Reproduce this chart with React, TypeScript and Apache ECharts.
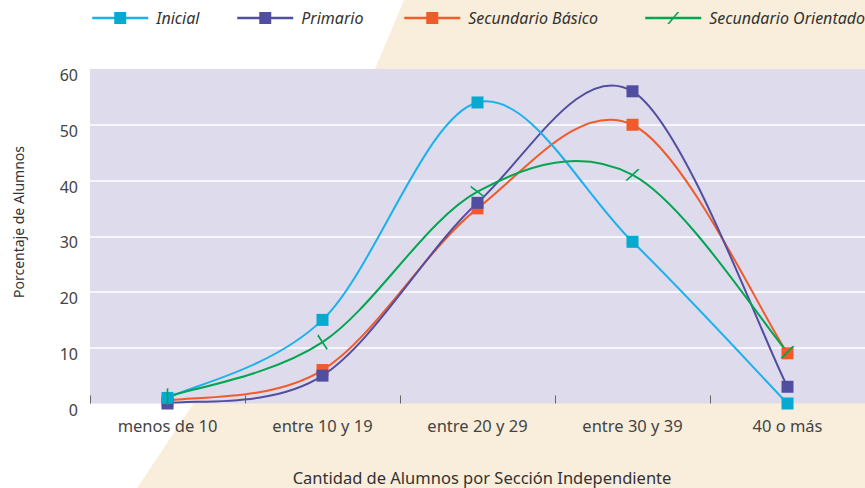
import React, { useEffect, useRef } from "react";
import * as echarts from "echarts";

const categories = ["menos de 10", "entre 10 y 19", "entre 20 y 29", "entre 30 y 39", "40 o más"];
const seriesNames = ["Inicial", "Primario", "Secundario Básico", "Secundario Orientado"];
const inicial = [1, 15, 54, 29, 0];
const primario = [0, 5, 36, 56, 3];
const secundarioBasico = [0.5, 6, 35, 50, 9];
const secundarioOrientado = [1.2, 11, 38, 41, 9.2];
const yMin = 0;
const yMax = 60;
const yInterval = 10;

const FONT = "'Noto Sans', 'Open Sans', sans-serif";
const SLASH = "path://M10,0 L12,0 L2,12 L0,12 Z";
const slashRotation = [40, 73, 93, -7, -5];

// Catmull-Rom spline through the points that the axes give for each value
function splinePath(pts: number[][]): string {
  const n = pts.length;
  let d = `M${pts[0][0]},${pts[0][1]}`;
  for (let i = 0; i < n - 1; i++) {
    const p0 = pts[Math.max(i - 1, 0)];
    const p1 = pts[i];
    const p2 = pts[i + 1];
    const p3 = pts[Math.min(i + 2, n - 1)];
    const c1x = p1[0] + (p2[0] - p0[0]) / 6;
    const c1y = p1[1] + (p2[1] - p0[1]) / 6;
    const c2x = p2[0] - (p3[0] - p1[0]) / 6;
    const c2y = p2[1] - (p3[1] - p1[1]) / 6;
    d += ` C${c1x},${c1y} ${c2x},${c2y} ${p2[0]},${p2[1]}`;
  }
  return d;
}

function curveSeries(values: number[], color: string): any {
  return {
    type: "custom",
    silent: true,
    z: 1,
    data: values.map((v, i) => [i, v]),
    encode: { x: 0, y: 1 },
    renderItem: (params: any, api: any) => {
      if (params.dataIndex !== 0) return null;
      const pts = values.map((v, i) => api.coord([i, v]));
      return {
        type: "path",
        shape: { pathData: splinePath(pts) },
        style: { fill: "none", stroke: color, lineWidth: 2 },
      };
    },
  };
}

export default function App() {
  const ref = useRef<HTMLDivElement>(null);
  useEffect(() => {
    if (!ref.current) return;
    const chart = echarts.init(ref.current, undefined, { renderer: "svg" });
    const legendLefts = [91, 236, 403, 644];
    const lineColors: Record<string, string> = {
      Inicial: "#1bb1ec",
      Primario: "#524ea0",
      "Secundario Básico": "#f15a29",
      "Secundario Orientado": "#00a651",
    };
    const markSeries = (name: string, data: any[], markColor: string, extra: any = {}) => ({
      name,
      type: "line",
      data,
      z: 3,
      symbol: "rect",
      symbolSize: 12,
      showAllSymbol: true,
      lineStyle: { color: lineColors[name], width: 2, opacity: 0 },
      itemStyle: { color: markColor },
      ...extra,
    });
    const option: any = {
      animation: false,
      backgroundColor: "#ffffff",
      graphic: [
        {
          type: "polygon",
          z: -10,
          shape: { points: [[404, 0], [865, 0], [865, 488], [137, 488], [193, 404], [375, 69]] },
          style: { fill: "#f8eedb" },
          silent: true,
        },
        {
          type: "text",
          x: 18,
          y: 222,
          rotation: Math.PI / 2,
          style: {
            text: "Porcentaje de Alumnos",
            fill: "#333333",
            font: `14px ${FONT}`,
            align: "center",
            verticalAlign: "middle",
          },
        },
        {
          type: "text",
          x: 482,
          y: 477,
          style: {
            text: "Cantidad de Alumnos por Sección Independiente",
            fill: "#333333",
            font: `16.5px ${FONT}`,
            align: "center",
            verticalAlign: "middle",
          },
        },
      ],
      legend: seriesNames.map((n, i) => ({
        data: [n],
        left: legendLefts[i],
        top: 10,
        padding: 0,
        itemWidth: 56,
        itemHeight: 15,
        selectedMode: false,
        lineStyle: { color: lineColors[n], width: 2.5, opacity: 1 },
        textStyle: {
          fontFamily: FONT,
          fontStyle: "italic",
          fontSize: 16,
          color: "#333333",
          padding: [0, 0, 0, 3],
        },
      })),
      grid: {
        left: 90,
        right: -6,
        top: 69,
        bottom: 84.5,
        show: true,
        backgroundColor: "#dedbec",
        borderWidth: 0,
        containLabel: false,
      },
      xAxis: {
        type: "category",
        data: categories,
        boundaryGap: true,
        axisLine: { show: false },
        axisTick: { show: true, inside: true, length: 8, lineStyle: { color: "#666666", width: 1 } },
        axisLabel: { margin: 13, fontFamily: FONT, fontSize: 16.5, color: "#444444" },
        splitLine: { show: false },
      },
      yAxis: {
        type: "value",
        min: yMin,
        max: yMax,
        interval: yInterval,
        axisLine: { show: false },
        axisTick: { show: false },
        axisLabel: {
          margin: 12,
          fontFamily: FONT,
          fontSize: 16,
          color: "#444444",
          verticalAlign: "top",
          lineHeight: 12,
        },
        splitLine: {
          show: true,
          lineStyle: {
            color: ["transparent", "#ffffff", "#ffffff", "#ffffff", "#ffffff", "#ffffff", "transparent"],
            width: 1.5,
          },
        },
      },
      series: [
        curveSeries(secundarioBasico, lineColors["Secundario Básico"]),
        curveSeries(primario, lineColors["Primario"]),
        curveSeries(inicial, lineColors["Inicial"]),
        curveSeries(secundarioOrientado, lineColors["Secundario Orientado"]),
        markSeries("Secundario Básico", secundarioBasico, "#f15a29"),
        markSeries("Primario", primario, "#514ea1"),
        markSeries("Inicial", inicial, "#06a9cf"),
        markSeries(
          "Secundario Orientado",
          secundarioOrientado.map((v, i) => ({ value: v, symbolRotate: slashRotation[i] })),
          "#00a651",
          { symbol: SLASH, symbolSize: 13, symbolRotate: 0 }
        ),
      ],
    };
    chart.setOption(option);
    return () => chart.dispose();
  }, []);
  return (
    <div
      ref={ref}
      style={{ position: "fixed", left: 0, top: 0, width: 865, height: 488 }}
    />
  );
}
